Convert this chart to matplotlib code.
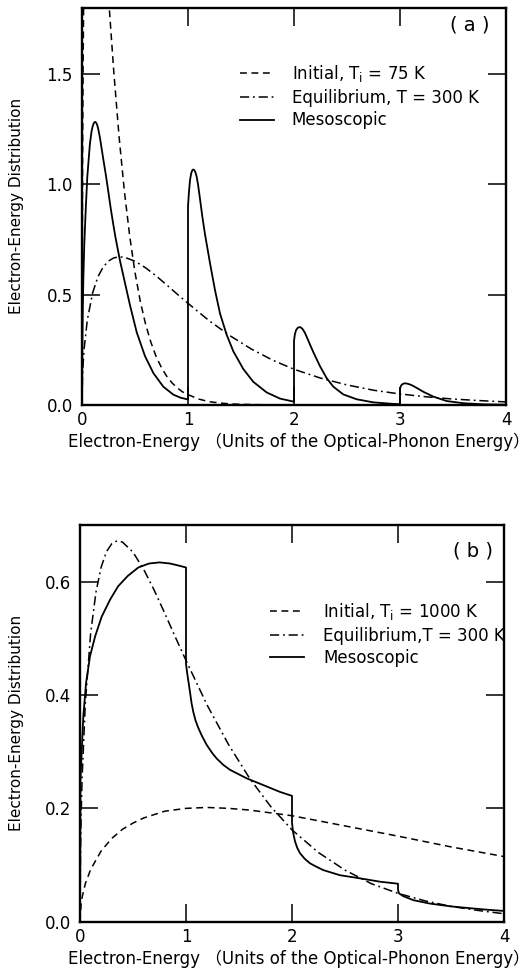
import matplotlib
matplotlib.use("Agg")
import matplotlib.pyplot as plt

plt.rcParams['font.family'] = ['DejaVu Sans', 'Noto Sans CJK JP']
plt.rcParams['mathtext.fontset'] = 'dejavusans'

# ---------------- data ----------------
# Panel (a) initial distribution, T_i = 75 K
xa_init = [0, 0.005, 0.01, 0.015, 0.02, 0.05, 0.1, 0.15, 0.2, 0.25, 0.3, 0.35, 0.4,
           0.45, 0.5, 0.55, 0.6, 0.65, 0.7, 0.75, 0.8, 0.85, 0.9, 0.95, 1.0, 1.1,
           1.2, 1.3, 1.4, 1.5, 1.7, 2.0]
ya_init = [0, 1.105, 1.518, 1.805, 2.024, 2.683, 2.827, 2.582, 2.221, 1.850, 1.510,
           1.215, 0.968, 0.766, 0.601, 0.470, 0.366, 0.284, 0.219, 0.169, 0.130,
           0.100, 0.077, 0.059, 0.047, 0.027, 0.015, 0.009, 0.005, 0.003, 0.001, 0.0]

# Equilibrium distribution, T = 300 K (same in both panels)
x_eq = [0, 0.005, 0.01, 0.02, 0.05, 0.1, 0.15, 0.2, 0.25, 0.3, 0.35, 0.4, 0.5, 0.6,
        0.7, 0.8, 0.9, 1.0, 1.2, 1.4, 1.6, 1.8, 2.0, 2.25, 2.5, 2.75, 3.0, 3.25,
        3.5, 3.75, 4.0]
y_eq = [0, 0.130, 0.182, 0.254, 0.385, 0.508, 0.581, 0.626, 0.653, 0.667, 0.672,
        0.670, 0.652, 0.622, 0.585, 0.544, 0.502, 0.461, 0.382, 0.313, 0.253,
        0.203, 0.162, 0.122, 0.091, 0.067, 0.050, 0.037, 0.027, 0.020, 0.014]

# Panel (a) mesoscopic distribution
xa_meso = [0, 0.004, 0.008, 0.013, 0.022, 0.035, 0.05, 0.075, 0.09, 0.1, 0.11,
           0.123, 0.135, 0.145, 0.154, 0.17, 0.186, 0.205, 0.226, 0.248, 0.27,
           0.292, 0.314, 0.358, 0.406, 0.453, 0.516, 0.594, 0.673, 0.767, 0.862,
           0.93, 1.0,
           1.0, 1.008, 1.019, 1.03, 1.04, 1.05, 1.06, 1.07, 1.082, 1.096, 1.113,
           1.135, 1.16, 1.208, 1.255, 1.302, 1.365, 1.428, 1.522, 1.616, 1.742,
           1.868, 2.0,
           2.0, 2.008, 2.02, 2.035, 2.05, 2.063, 2.08, 2.1, 2.12, 2.15, 2.182,
           2.245, 2.308, 2.371, 2.465, 2.591, 2.748, 2.937, 3.0,
           3.0, 3.01, 3.025, 3.04, 3.055, 3.075, 3.1, 3.126, 3.17, 3.22, 3.315,
           3.44, 3.6, 3.79, 4.0]
ya_meso = [0, 0.30, 0.45, 0.58, 0.733, 0.884, 1.035, 1.186, 1.240, 1.262, 1.277,
           1.284, 1.279, 1.267, 1.250, 1.210, 1.160, 1.102, 1.040, 0.968, 0.895,
           0.828, 0.765, 0.655, 0.552, 0.452, 0.330, 0.222, 0.145, 0.083, 0.047,
           0.033, 0.025,
           0.90, 0.96, 1.02, 1.050, 1.064, 1.068, 1.065, 1.055, 1.035, 0.995,
           0.935, 0.855, 0.775, 0.642, 0.52, 0.415, 0.318, 0.243, 0.163, 0.105,
           0.057, 0.029, 0.015,
           0.29, 0.32, 0.34, 0.350, 0.353, 0.352, 0.345, 0.330, 0.309, 0.275,
           0.240, 0.176, 0.122, 0.083, 0.048, 0.026, 0.012, 0.005, 0.004,
           0.075, 0.088, 0.095, 0.098, 0.098, 0.096, 0.092, 0.086, 0.074, 0.06,
           0.038, 0.018, 0.008, 0.003, 0.0015]

# Panel (b) initial distribution, T_i = 1000 K
xb_init = [0, 0.01, 0.02, 0.05, 0.1, 0.2, 0.3, 0.4, 0.5, 0.6, 0.8, 1.0, 1.2, 1.4,
           1.6, 1.8, 2.0, 2.5, 3.0, 3.5, 4.0]
yb_init = [0, 0.030, 0.043, 0.067, 0.092, 0.125, 0.147, 0.163, 0.174, 0.183, 0.195,
           0.200, 0.2016, 0.200, 0.197, 0.192, 0.187, 0.169, 0.151, 0.132, 0.115]

# Panel (b) mesoscopic distribution
xb_meso = [0, 0.004, 0.016, 0.031, 0.057, 0.094, 0.142, 0.204, 0.283, 0.36, 0.45,
           0.55, 0.65, 0.75, 0.85, 0.94, 1.0,
           1.0, 1.01, 1.022, 1.038, 1.053, 1.069, 1.09, 1.116, 1.15, 1.195, 1.25,
           1.289, 1.35, 1.415, 1.572, 1.73, 1.887, 2.0,
           2.0, 2.01, 2.028, 2.05, 2.075, 2.12, 2.17, 2.23, 2.296, 2.453, 2.642,
           2.83, 3.0,
           3.0, 3.01, 3.05, 3.145, 3.3, 3.5, 3.7, 3.85, 4.0]
yb_meso = [0, 0.25, 0.30, 0.362, 0.421, 0.468, 0.503, 0.538, 0.568, 0.592, 0.61,
           0.625, 0.632, 0.634, 0.632, 0.628, 0.625,
           0.455, 0.44, 0.425, 0.405, 0.385, 0.37, 0.355, 0.342, 0.328, 0.312,
           0.297, 0.288, 0.277, 0.268, 0.253, 0.241, 0.229, 0.222,
           0.175, 0.158, 0.142, 0.13, 0.121, 0.111, 0.103, 0.097, 0.091, 0.082,
           0.0765, 0.0706, 0.067,
           0.056, 0.050, 0.045, 0.038, 0.032, 0.027, 0.0235, 0.021, 0.019]

xticks = [0, 1, 2, 3, 4]
xtick_labels = ['0', '1', '2', '3', '4']
ya_ticks = [0.0, 0.5, 1.0, 1.5]
ya_tick_labels = ['0.0', '0.5', '1.0', '1.5']
yb_ticks = [0.0, 0.2, 0.4, 0.6]
yb_tick_labels = ['0.0', '0.2', '0.4', '0.6']

labels_a = [r'Initial, T$_\mathrm{i}$ = 75 K', 'Equilibrium, T = 300 K', 'Mesoscopic']
labels_b = [r'Initial, T$_\mathrm{i}$ = 1000 K', 'Equilibrium,T = 300 K', 'Mesoscopic']
xlabel = 'Electron-Energy \uff08Units of the Optical-Phonon Energy\uff09'
ylabel = 'Electron-Energy Distribution'

# ---------------- figure ----------------
W, H = 530, 974
fig = plt.figure(figsize=(W / 100, H / 100), dpi=100)
fig.patch.set_facecolor('white')


def axes_px(l, t, r, b):
    return fig.add_axes([l / W, 1 - b / H, (r - l) / W, (b - t) / H])


axA = axes_px(82, 8, 506, 405)
axB = axes_px(80, 525, 504, 921.7)

LW = 1.1
DASH = (0, (4.5, 3.0))
DASHDOT = (0, (6.0, 2.5, 1.2, 2.5))


def style(ax, yt, ytl, ymax):
    ax.set_xlim(0, 4)
    ax.set_ylim(0, ymax)
    ax.set_xticks(xticks)
    ax.set_xticklabels(xtick_labels)
    ax.set_yticks(yt)
    ax.set_yticklabels(ytl)
    ax.tick_params(direction='in', length=13, width=1.1, top=True, right=True,
                   labelsize=12, colors='black')
    ax.tick_params(axis='x', pad=4.5)
    ax.tick_params(axis='y', pad=6.5)
    for s in ax.spines.values():
        s.set_linewidth(1.7)
        s.set_color('black')


# Panel (a)
l1, = axA.plot(xa_init, ya_init, color='black', lw=LW, ls=DASH)
l2, = axA.plot(x_eq, y_eq, color='black', lw=LW, ls=DASHDOT)
l3, = axA.plot(xa_meso, ya_meso, color='black', lw=LW + 0.2, ls='-')
style(axA, ya_ticks, ya_tick_labels, 1.8)
axA.legend([l1, l2, l3], labels_a, loc='upper left',
           bbox_to_anchor=(240 / W, 1 - 63 / H), bbox_transform=fig.transFigure,
           frameon=False, fontsize=12, handlelength=2.05, handletextpad=1.05,
           labelspacing=0.28, borderpad=0, borderaxespad=0)
fig.text(470 / W, 1 - 25 / H, '( a )', ha='center', va='center', fontsize=14)

# Panel (b)
m1, = axB.plot(xb_init, yb_init, color='black', lw=LW, ls=DASH)
m2, = axB.plot(x_eq, y_eq, color='black', lw=LW, ls=DASHDOT)
m3, = axB.plot(xb_meso, yb_meso, color='black', lw=LW + 0.2, ls='-')
style(axB, yb_ticks, yb_tick_labels, 0.7)
axB.legend([m1, m2, m3], labels_b, loc='upper left',
           bbox_to_anchor=(270 / W, 1 - 601 / H), bbox_transform=fig.transFigure,
           frameon=False, fontsize=12, handlelength=2.05, handletextpad=1.15,
           labelspacing=0.28, borderpad=0, borderaxespad=0)
fig.text(473 / W, 1 - 551 / H, '( b )', ha='center', va='center', fontsize=14)

# axis labels
for yc in (206, 723):
    fig.text(17 / W, 1 - yc / H, ylabel, rotation=90, ha='center', va='center',
             fontsize=11)
for yc in (442, 959):
    fig.text(299 / W, 1 - yc / H, xlabel, ha='center', va='center', fontsize=12)

fig.savefig('out.png', dpi=100, facecolor='white')
